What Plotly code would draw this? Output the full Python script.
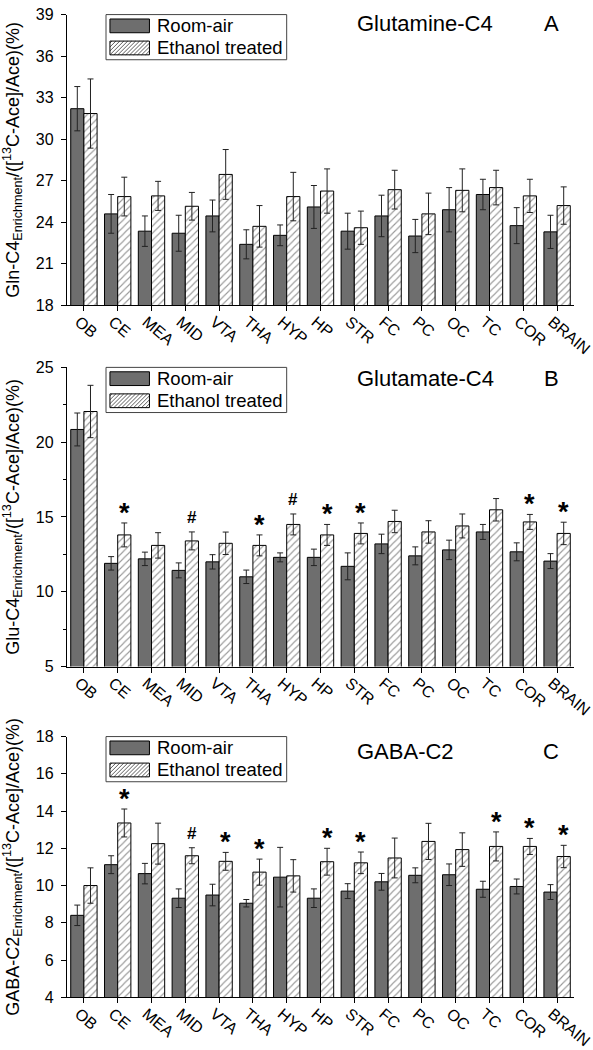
import plotly.graph_objects as go

cats = ["OB", "CE", "MEA", "MID", "VTA", "THA", "HYP", "HP", "STR", "FC", "PC", "OC", "TC", "COR", "BRAIN"]

gln_air = [32.2, 24.6, 23.35, 23.2, 24.45, 22.4, 23.05, 25.1, 23.35, 24.45, 23.0, 24.9, 26.0, 23.75, 23.3]
gln_air_err = [1.6, 1.4, 1.1, 1.3, 1.15, 1.05, 0.75, 1.55, 1.3, 1.5, 1.2, 1.6, 1.1, 1.3, 1.2]
gln_eth = [31.85, 25.85, 25.9, 25.15, 27.45, 23.7, 25.85, 26.25, 23.6, 26.35, 24.6, 26.3, 26.5, 25.9, 25.2]
gln_eth_err = [2.5, 1.4, 1.05, 1.0, 1.8, 1.5, 1.75, 1.6, 1.2, 1.4, 1.5, 1.55, 1.25, 1.2, 1.35]

glu_air = [20.85, 11.9, 12.2, 11.43, 12.0, 11.0, 12.3, 12.3, 11.7, 13.2, 12.4, 12.8, 14.0, 12.67, 12.05]
glu_air_err = [1.1, 0.45, 0.45, 0.5, 0.48, 0.45, 0.3, 0.55, 0.9, 0.65, 0.6, 0.65, 0.5, 0.6, 0.5]
glu_eth = [22.05, 13.8, 13.1, 13.4, 13.24, 13.1, 14.5, 13.8, 13.9, 14.7, 14.0, 14.4, 15.48, 14.67, 13.9]
glu_eth_err = [1.75, 0.8, 0.85, 0.6, 0.75, 0.7, 0.7, 0.7, 0.7, 0.75, 0.75, 0.8, 0.75, 0.5, 0.75]
glu_marks = ["", "*", "", "#", "", "*", "#", "*", "*", "", "", "", "", "*", "*"]

gaba_air = [8.4, 11.12, 10.64, 9.32, 9.49, 9.05, 10.45, 9.32, 9.7, 10.2, 10.55, 10.58, 9.8, 9.95, 9.65]
gaba_air_err = [0.55, 0.48, 0.55, 0.5, 0.58, 0.2, 1.6, 0.5, 0.4, 0.45, 0.4, 0.58, 0.43, 0.4, 0.4]
gaba_eth = [10.0, 13.36, 12.25, 11.6, 11.3, 10.72, 10.52, 11.28, 11.22, 11.48, 12.37, 11.93, 12.1, 12.1, 11.56]
gaba_eth_err = [0.95, 0.75, 1.1, 0.43, 0.48, 0.7, 0.87, 0.72, 0.58, 1.07, 0.97, 0.9, 0.78, 0.43, 0.6]
gaba_marks = ["", "*", "", "#", "*", "*", "", "*", "*", "", "", "", "*", "*", "*"]

series_names = ["Room-air", "Ethanol treated"]
panel_titles = ["Glutamine-C4", "Glutamate-C4", "GABA-C2"]
panel_letters = ["A", "B", "C"]
y_titles = [
    "Gln-C4<sub>Enrichment</sub>/([<sup>13</sup>C-Ace]/Ace)(%)",
    "Glu-C4<sub>Enrichment</sub>/([<sup>13</sup>C-Ace]/Ace)(%)",
    "GABA-C2<sub>Enrichment</sub>/([<sup>13</sup>C-Ace]/Ace)(%)",
]
y_ranges = [[18, 39], [5, 25], [4, 18]]
y_dticks = [3, 5, 2]

W, H = 593, 1050
ML, MR, MT, MB = 66.5, 13, 0, 0
PW, PH = W - ML - MR, H - MT - MB

# panel pixel extents (top, bottom)
panels_px = [(6.7, 302.7), (366.0, 670.7), (742.0, 1007.5)]
title_y_px = [16, 377, 757]

GREY = "#6e6e6e"
FONT = "Liberation Sans, Arial, sans-serif"


def px_x(x):
    return (x - ML) / PW


def px_y(y):
    return (H - MB - y) / PH


fig = go.Figure()
data = [
    (gln_air, gln_air_err, gln_eth, gln_eth_err, None),
    (glu_air, glu_air_err, glu_eth, glu_eth_err, glu_marks),
    (gaba_air, gaba_air_err, gaba_eth, gaba_eth_err, gaba_marks),
]

annotations = []
shapes = []
layout_axes = {}
for p, (a, ae, e, ee, marks) in enumerate(data):
    xa = "x" if p == 0 else f"x{p+1}"
    ya = "y" if p == 0 else f"y{p+1}"
    fig.add_trace(go.Bar(
        x=cats, y=a, name=series_names[0], xaxis=xa, yaxis=ya,
        marker=dict(color=GREY, line=dict(color="black", width=1)),
        error_y=dict(type="data", array=ae, color="#222222", thickness=1, width=3),
        showlegend=False,
    ))
    fig.add_trace(go.Bar(
        x=cats, y=e, name=series_names[1], xaxis=xa, yaxis=ya,
        marker=dict(color="white", line=dict(color="black", width=1),
                    pattern=dict(shape="/", fgcolor="#333333", bgcolor="white", size=5, solidity=0.22)),
        error_y=dict(type="data", array=ee, color="#222222", thickness=1, width=3),
        showlegend=False,
    ))
    top, bot = panels_px[p]
    dom = [px_y(bot), px_y(top)]
    layout_axes["xaxis" if p == 0 else f"xaxis{p+1}"] = dict(
        domain=[0, 1], anchor=ya, type="category", range=[-0.5, 14.5],
        showline=True, linecolor="black", linewidth=1.2, ticks="outside", ticklen=5,
        tickcolor="black", tickangle=40, tickfont=dict(size=16, color="black", family=FONT),
        ticklabelshift=-5, ticklabelstandoff=-5,
        showgrid=False, zeroline=False, fixedrange=True,
    )
    ydict = dict(
        domain=dom, anchor=xa, range=y_ranges[p], dtick=y_dticks[p], tick0=0,
        showline=True, linecolor="black", linewidth=1.2, ticks="outside", ticklen=5,
        tickcolor="black", tickfont=dict(size=16, color="black", family=FONT),
        ticklabelstandoff=4, fixedrange=True,
        showgrid=False, zeroline=False,
        title=dict(text=y_titles[p], font=dict(size=18, color="black", family=FONT), standoff=23),
    )
    if p == 1:
        ydict["minor"] = dict(ticks="outside", ticklen=3, tickcolor="black", dtick=2.5)
    layout_axes["yaxis" if p == 0 else f"yaxis{p+1}"] = ydict

    # titles
    annotations.append(dict(text=panel_titles[p], xref="paper", yref="paper", x=px_x(358), y=px_y(title_y_px[p]),
                            xanchor="left", yanchor="middle", showarrow=False,
                            font=dict(size=22, color="black", family=FONT)))
    annotations.append(dict(text=panel_letters[p], xref="paper", yref="paper", x=px_x(557), y=px_y(title_y_px[p]),
                            xanchor="center", yanchor="middle", showarrow=False,
                            font=dict(size=22, color="black", family=FONT)))

    # significance marks
    if marks:
        for c, m, v, er in zip(cats, marks, e, ee):
            if not m:
                continue
            if m == "*":
                annotations.append(dict(text="<b>*</b>", x=c, y=v + er, xref=xa, yref=ya, xshift=6.6, yshift=-7,
                                        yanchor="bottom", showarrow=False,
                                        font=dict(size=27, color="black", family=FONT)))
            else:
                annotations.append(dict(text="<b>#</b>", x=c, y=v + er, xref=xa, yref=ya, xshift=6.6, yshift=3,
                                        yanchor="bottom", showarrow=False,
                                        font=dict(size=17, color="#000000", family=FONT)))

    # legend (drawn manually)
    bx0, bx1 = 106, 289
    by0, by1 = top, top + 46
    shapes.append(dict(type="rect", xref="paper", yref="paper", x0=px_x(bx0), x1=px_x(bx1),
                       y0=px_y(by1), y1=px_y(by0), line=dict(color="#444444", width=1), fillcolor="white"))
    rows = [top + 11.5, top + 34]
    sx0, sx1 = 110, 150
    for r, ry in enumerate(rows):
        sy0, sy1 = ry - 7, ry + 7
        if r == 0:
            shapes.append(dict(type="rect", xref="paper", yref="paper", x0=px_x(sx0), x1=px_x(sx1),
                               y0=px_y(sy1), y1=px_y(sy0), line=dict(color="black", width=1), fillcolor=GREY))
        else:
            segs = []
            c = sx0 + sy0 + 2
            while c < sx1 + sy1:
                xa0 = max(sx0, c - sy1)
                xa1 = min(sx1, c - sy0)
                if xa1 > xa0:
                    segs.append(f"M{px_x(xa0):.5f},{px_y(c - xa0):.5f} L{px_x(xa1):.5f},{px_y(c - xa1):.5f}")
                c += 4
            shapes.append(dict(type="path", xref="paper", yref="paper", path=" ".join(segs),
                               line=dict(color="#333333", width=0.8)))
            shapes.append(dict(type="rect", xref="paper", yref="paper", x0=px_x(sx0), x1=px_x(sx1),
                               y0=px_y(sy1), y1=px_y(sy0), line=dict(color="black", width=1)))
        annotations.append(dict(text=series_names[r], xref="paper", yref="paper", x=px_x(156), y=px_y(ry),
                                xanchor="left", yanchor="middle", showarrow=False,
                                font=dict(size=18.5, color="black", family=FONT)))

fig.update_layout(
    width=W, height=H, margin=dict(l=ML, r=MR, t=MT, b=MB),
    paper_bgcolor="white", plot_bgcolor="white",
    barmode="group", bargap=0.22, bargroupgap=0,
    font=dict(family=FONT, color="black"),
    hovermode=False,
    annotations=annotations, shapes=shapes,
    **layout_axes,
)

fig.write_html("out.html", config={"displayModeBar": False, "staticPlot": True},
               post_script="document.body.style.margin='0px';document.body.style.overflow='hidden';")
